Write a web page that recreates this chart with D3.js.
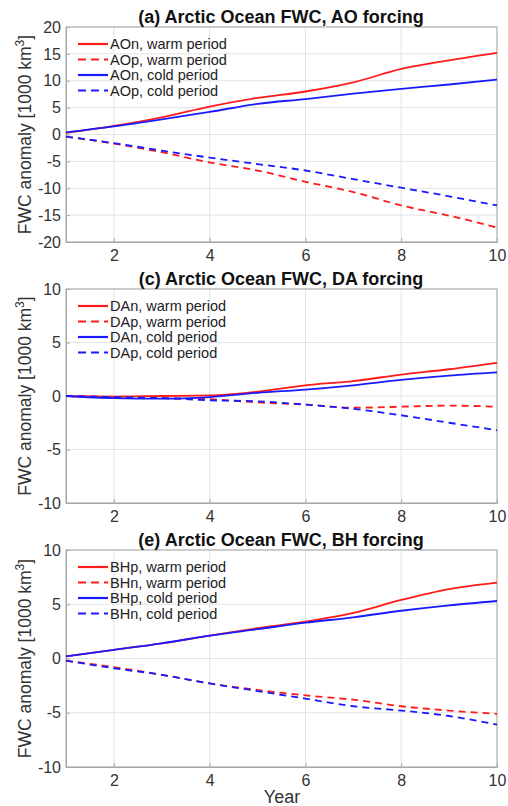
<!DOCTYPE html>
<html>
<head>
<meta charset="utf-8">
<script src="https://cdn.jsdelivr.net/npm/d3@7"></script>
<style>
body{margin:0;background:#fff;}
text{font-family:"Liberation Sans",Arial,sans-serif;}
</style>
</head>
<body>
<div id="chart"></div>
<script>
// years on x axis
const years=[1,2,3,4,5,6,7,8,9,10];
const xTicks=[2,4,6,8,10];

// (a) AO forcing
const aoTitle="(a) Arctic Ocean FWC, AO forcing";
const aoNames=["AOn, warm period","AOp, warm period","AOn, cold period","AOp, cold period"];
const aoNwarm=[0.3,1.6,3.2,5.2,6.8,8.0,9.7,12.2,13.8,15.2];
const aoPwarm=[-0.4,-1.7,-3.3,-5.2,-6.7,-8.8,-10.7,-13.2,-15.1,-17.3];
const aoNcold=[0.4,1.5,2.8,4.2,5.7,6.6,7.6,8.5,9.3,10.2];
const aoPcold=[-0.4,-1.6,-3.0,-4.3,-5.5,-6.7,-8.3,-9.9,-11.5,-13.2];
const aoYTicks=[-20,-15,-10,-5,0,5,10,15,20];

// (c) DA forcing
const daTitle="(c) Arctic Ocean FWC, DA forcing";
const daNames=["DAn, warm period","DAp, warm period","DAn, cold period","DAp, cold period"];
const daNwarm=[0,-0.05,0,0.05,0.4,1.0,1.4,2.0,2.5,3.1];
const daPwarm=[0,-0.1,-0.2,-0.3,-0.6,-0.8,-1.1,-1.0,-0.9,-1.0];
const daNcold=[0,-0.2,-0.25,-0.1,0.3,0.6,1.0,1.5,1.9,2.2];
const daPcold=[0,-0.1,-0.2,-0.4,-0.5,-0.8,-1.2,-1.8,-2.5,-3.2];
const daYTicks=[-10,-5,0,5,10];

// (e) BH forcing
const bhTitle="(e) Arctic Ocean FWC, BH forcing";
const bhNames=["BHp, warm period","BHn, warm period","BHp, cold period","BHn, cold period"];
const bhPwarm=[0.2,0.8,1.4,2.1,2.8,3.4,4.2,5.4,6.4,7.0];
const bhNwarm=[-0.2,-0.8,-1.5,-2.3,-2.9,-3.4,-3.8,-4.4,-4.8,-5.1];
const bhPcold=[0.2,0.8,1.4,2.1,2.7,3.3,3.8,4.4,4.9,5.3];
const bhNcold=[-0.2,-0.9,-1.5,-2.3,-3.0,-3.7,-4.4,-4.8,-5.3,-6.1];
const bhYTicks=[-10,-5,0,5,10];

const W=508,H=806;
const svg=d3.select("#chart").append("svg").attr("width",W).attr("height",H);

const styles=[{c:"#ff1a1a",d:null},{c:"#ff1a1a",d:"7,5"},{c:"#1a1aff",d:null},{c:"#1a1aff",d:"7,5"}];

function panel(top,bottom,title,names,series,yTicks){
  const x=d3.scaleLinear().domain([1,10]).range([66,497]);
  const y=d3.scaleLinear().domain([yTicks[0],yTicks[yTicks.length-1]]).range([bottom,top]);
  const g=svg.append("g");
  // grid
  g.selectAll(".vg").data(xTicks).enter().append("line")
    .attr("x1",d=>x(d)).attr("x2",d=>x(d)).attr("y1",top).attr("y2",bottom)
    .attr("stroke","#e3e3e3").attr("stroke-width",1);
  g.selectAll(".hg").data(yTicks).enter().append("line")
    .attr("x1",x(1)).attr("x2",x(10)).attr("y1",d=>y(d)).attr("y2",d=>y(d))
    .attr("stroke","#e3e3e3").attr("stroke-width",1);
  // axes
  const ax=g.append("g").attr("transform","translate(0,"+bottom+")")
    .call(d3.axisBottom(x).tickValues(xTicks).tickSize(-4).tickPadding(8).tickFormat(d=>String(d)));
  const ay=g.append("g").attr("transform","translate(66,0)")
    .call(d3.axisLeft(y).tickValues(yTicks).tickSize(-4).tickPadding(5).tickFormat(d=>String(d)));
  [ax,ay].forEach(a=>{
    a.select(".domain").attr("stroke","#a8a8a8");
    a.selectAll(".tick line").attr("stroke","#a8a8a8");
    a.selectAll(".tick text").attr("fill","#333").style("font-size","16px");
  });
  g.append("rect").attr("x",x(1)).attr("y",top).attr("width",x(10)-x(1)).attr("height",bottom-top)
    .attr("fill","none").attr("stroke","#a8a8a8").attr("stroke-width",1);
  // lines
  const line=d3.line().x((d,i)=>x(years[i])).y(d=>y(d)).curve(d3.curveMonotoneX);
  series.forEach((s,k)=>{
    g.append("path").datum(s).attr("d",line).attr("fill","none")
      .attr("stroke",styles[k].c).attr("stroke-width",1.8)
      .attr("stroke-dasharray",styles[k].d);
  });
  // legend
  names.forEach((n,k)=>{
    const ly=top+17+k*15.5;
    g.append("line").attr("x1",78).attr("x2",108).attr("y1",ly).attr("y2",ly)
      .attr("stroke",styles[k].c).attr("stroke-width",2.2).attr("stroke-dasharray",styles[k].d?"8,5":null);
    g.append("text").attr("x",110).attr("y",ly+5).text(n)
      .attr("fill","#222").style("font-size","14.5px");
  });
  // title
  g.append("text").attr("x",281).attr("y",top-4.5).attr("text-anchor","middle")
    .style("font-size","18px").style("font-weight","bold").attr("fill","#111").text(title);
  // y label
  const yl=g.append("text").attr("transform","translate(31,"+((top+bottom)/2)+") rotate(-90)")
    .attr("text-anchor","middle").attr("fill","#333").style("font-size","17.5px");
  yl.append("tspan").text("FWC anomaly [1000 km");
  yl.append("tspan").text("3").attr("dy",-7).style("font-size","12px");
  yl.append("tspan").text("]").attr("dy",7);
}

panel(27,242,aoTitle,aoNames,[aoNwarm,aoPwarm,aoNcold,aoPcold],aoYTicks);
panel(289,503,daTitle,daNames,[daNwarm,daPwarm,daNcold,daPcold],daYTicks);
panel(550,767,bhTitle,bhNames,[bhPwarm,bhNwarm,bhPcold,bhNcold],bhYTicks);

svg.append("text").attr("x",282).attr("y",803).attr("text-anchor","middle")
  .attr("fill","#333").style("font-size","18px").text("Year");
</script>
</body>
</html>
